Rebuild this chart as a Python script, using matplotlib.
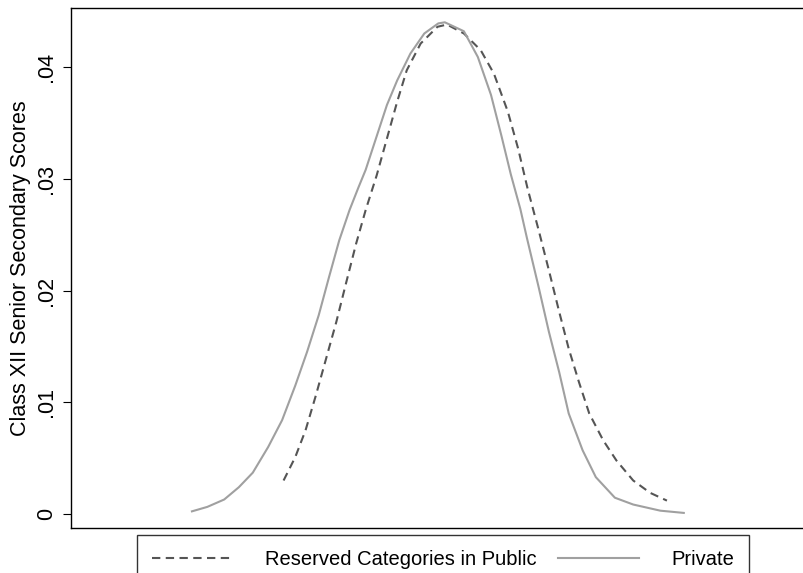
"""Kernel density of Class XII senior secondary scores, reserved (public) vs private."""

import matplotlib

matplotlib.use("Agg")
import matplotlib.pyplot as plt
from matplotlib.lines import Line2D

plt.rcParams["font.family"] = ["Liberation Sans", "DejaVu Sans"]

# Reserved categories in public schools (dashed)
reserved_score = [29.0, 30.6, 32.0, 33.4, 34.8, 36.2, 37.5, 38.9, 40.2, 41.7,
                  43.1, 44.5, 45.8, 47.7, 50.0, 51.3, 53.6, 55.9, 57.7, 59.6,
                  61.0, 62.3, 63.8, 65.2, 66.6, 67.9, 69.3, 70.7, 72.6, 74.4,
                  76.7, 79.0, 81.3]
reserved_density = [0.0030, 0.0051, 0.0075, 0.0106, 0.0139, 0.0172, 0.0206, 0.0242,
                    0.0272, 0.0303, 0.0336, 0.0369, 0.0397, 0.0421, 0.0436, 0.0438,
                    0.0430, 0.0415, 0.0394, 0.0360, 0.0327, 0.0291, 0.0254, 0.0218,
                    0.0181, 0.0148, 0.0118, 0.0090, 0.0066, 0.0048, 0.0030, 0.0019,
                    0.0012]

# Private schools (solid)
private_score = [16.5, 18.6, 20.9, 22.9, 24.8, 26.9, 28.8, 30.6, 32.2, 33.8,
                 35.2, 36.6, 38.0, 39.2, 40.2, 41.7, 43.1, 44.5, 46.3, 48.2,
                 50.1, 51.0, 53.6, 55.5, 57.3, 58.7, 60.0, 61.3, 62.2, 63.8,
                 65.2, 66.6, 67.9, 69.8, 71.6, 74.2, 76.7, 80.4, 83.6]
private_density = [0.00024, 0.00064, 0.0013, 0.0024, 0.0037, 0.0060, 0.0084, 0.0115,
                   0.0145, 0.0178, 0.0212, 0.0245, 0.0272, 0.0292, 0.0308, 0.0338,
                   0.0366, 0.0388, 0.0412, 0.0430, 0.0439, 0.0440, 0.0432, 0.0409,
                   0.0375, 0.0339, 0.0304, 0.0273, 0.0247, 0.0203, 0.0163, 0.0127,
                   0.0090, 0.0057, 0.0033, 0.00146, 0.00085, 0.0003, 0.0001]

y_ticks = [0, 0.01, 0.02, 0.03, 0.04]
y_tick_labels = ["0", ".01", ".02", ".03", ".04"]

RESERVED_COLOUR = "#555555"
PRIVATE_COLOUR = "#a0a0a0"
DASHES = (0, (4.0, 2.6))

fig = plt.figure(figsize=(8.04, 5.73), dpi=100)
ax = fig.add_axes([71 / 804, 45 / 573, 1 - 71 / 804, 520 / 573])

ax.plot(reserved_score, reserved_density, color=RESERVED_COLOUR, linewidth=1.5,
        linestyle=DASHES)
ax.plot(private_score, private_density, color=PRIVATE_COLOUR, linewidth=1.5)

ax.set_xlim(0, 100)
ax.set_ylim(-0.00125, 0.04528)
ax.set_xticks([])
ax.set_yticks(y_ticks)
ax.set_yticklabels(y_tick_labels, rotation=90, va="center", fontsize=15.5)
ax.tick_params(axis="y", length=6, width=0.8, pad=4)
ax.spines["right"].set_visible(False)
for side in ("left", "top", "bottom"):
    ax.spines[side].set_linewidth(1.0)
ax.set_ylabel("Class XII Senior Secondary Scores", fontsize=15.5, labelpad=4)

# Legend box sits below the plot and runs off the bottom edge, as in the original
handles = [
    Line2D([], [], color=RESERVED_COLOUR, linewidth=1.5, linestyle=DASHES),
    Line2D([], [], color=PRIVATE_COLOUR, linewidth=1.5),
]
leg = fig.legend(
    handles,
    ["Reserved Categories in Public", "Private"],
    loc="upper left",
    bbox_to_anchor=(137 / 804, 0.0, 612 / 804, 38 / 573),
    mode="expand",
    ncol=2,
    fontsize=14.5,
    frameon=True,
    fancybox=False,
    edgecolor="black",
    handlelength=4.0,
    handletextpad=1.6,
    borderpad=0.75,
    borderaxespad=0.0,
)
leg.get_frame().set_linewidth(1.0)

fig.savefig("out.png", dpi=100)
